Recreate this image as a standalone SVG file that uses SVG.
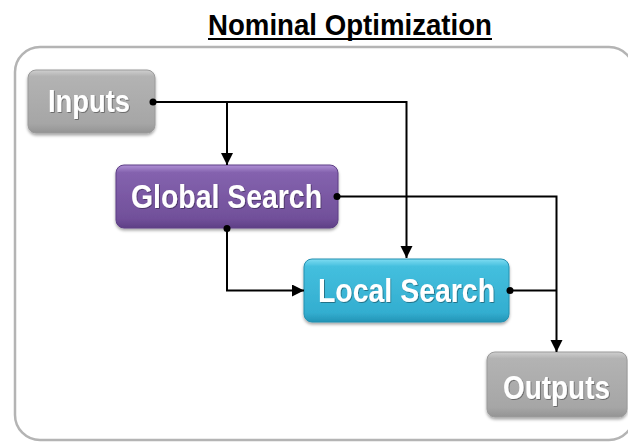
<svg xmlns="http://www.w3.org/2000/svg" width="628" height="442" viewBox="0 0 628 442">
  <style>
    .title { font-family: "Liberation Sans", Arial, sans-serif; font-weight: bold; font-size: 30px; fill: #000; }
    .label { font-family: "Liberation Sans", Arial, sans-serif; font-weight: bold; fill: #fff; text-anchor: middle; }
    .wire { fill: none; stroke: #000; stroke-width: 2; }
    .dot { fill: #000; }
    .frame { fill: #fff; stroke: #b4b4b4; stroke-width: 2.5; }
  </style>
  <defs>
    <linearGradient id="gGray" x1="0" y1="0" x2="0" y2="1">
      <stop offset="0" stop-color="#cfcfcf"/>
      <stop offset="0.1" stop-color="#b3b3b3"/>
      <stop offset="0.85" stop-color="#a6a6a6"/>
      <stop offset="1" stop-color="#949494"/>
    </linearGradient>
    <linearGradient id="gPurple" x1="0" y1="0" x2="0" y2="1">
      <stop offset="0" stop-color="#b091d6"/>
      <stop offset="0.12" stop-color="#8462ae"/>
      <stop offset="0.85" stop-color="#71509a"/>
      <stop offset="1" stop-color="#5f3f86"/>
    </linearGradient>
    <linearGradient id="gCyan" x1="0" y1="0" x2="0" y2="1">
      <stop offset="0" stop-color="#7fdcf2"/>
      <stop offset="0.12" stop-color="#44bfde"/>
      <stop offset="0.85" stop-color="#33aed0"/>
      <stop offset="1" stop-color="#2494b6"/>
    </linearGradient>
    <filter id="shadow" x="-10%" y="-20%" width="120%" height="150%">
      <feDropShadow dx="0" dy="2" stdDeviation="1.5" flood-color="#000" flood-opacity="0.35"/>
    </filter>
    <filter id="textShadow" x="-10%" y="-20%" width="120%" height="150%">
      <feDropShadow dx="0.8" dy="0.8" stdDeviation="0.6" flood-color="#000" flood-opacity="0.45"/>
    </filter>
    <marker id="arrow" markerUnits="userSpaceOnUse" markerWidth="13" markerHeight="13" refX="12" refY="6" orient="auto">
      <path d="M0,0 L12,6 L0,12 z" fill="#000"/>
    </marker>
  </defs>

  <!-- title -->
  <g id="title">
    <text class="title" x="208" y="35" textLength="284" lengthAdjust="spacingAndGlyphs">Nominal Optimization</text>
    <rect x="208" y="38" width="284" height="2" fill="#000"/>
  </g>

  <!-- outer frame -->
  <rect class="frame" x="15" y="47" width="619" height="393" rx="25" ry="25"/>

  <!-- nodes -->
  <g id="inputs">
    <rect x="28" y="70" width="127" height="63" rx="8" fill="url(#gGray)" stroke="#9a9a9a" stroke-width="1" filter="url(#shadow)"/>
    <text class="label" x="89" y="112" font-size="31" textLength="82" lengthAdjust="spacingAndGlyphs" filter="url(#textShadow)">Inputs</text>
  </g>
  <g id="global-search">
    <rect x="116" y="165" width="222" height="63" rx="8" fill="url(#gPurple)" stroke="#5d3f85" stroke-width="1" filter="url(#shadow)"/>
    <text class="label" x="226.5" y="207.5" font-size="34" textLength="191" lengthAdjust="spacingAndGlyphs" filter="url(#textShadow)">Global Search</text>
  </g>
  <g id="local-search">
    <rect x="304" y="259" width="205" height="63" rx="8" fill="url(#gCyan)" stroke="#2590b0" stroke-width="1" filter="url(#shadow)"/>
    <text class="label" x="406.5" y="302" font-size="34" textLength="177" lengthAdjust="spacingAndGlyphs" filter="url(#textShadow)">Local Search</text>
  </g>
  <g id="outputs">
    <rect x="487" y="352" width="140" height="65" rx="8" fill="url(#gGray)" stroke="#9a9a9a" stroke-width="1" filter="url(#shadow)"/>
    <text class="label" x="556.5" y="399" font-size="34" textLength="107" lengthAdjust="spacingAndGlyphs" filter="url(#textShadow)">Outputs</text>
  </g>

  <!-- connectors, drawn over the node edges so the start dots stay visible -->
  <g id="connectors">
    <path class="wire" d="M153,102 H406.5 V258" marker-end="url(#arrow)"/>
    <path class="wire" d="M227,102 V165" marker-end="url(#arrow)"/>
    <path class="wire" d="M337,196.5 H556.5 V352" marker-end="url(#arrow)"/>
    <path class="wire" d="M227,228 V290.5 H304" marker-end="url(#arrow)"/>
    <path class="wire" d="M510,290.5 H556.5"/>
    <circle class="dot" cx="153" cy="102" r="3.5"/>
    <circle class="dot" cx="337" cy="196.5" r="3.5"/>
    <circle class="dot" cx="227" cy="228.5" r="3.5"/>
    <circle class="dot" cx="510" cy="290.5" r="3.5"/>
  </g>
</svg>
